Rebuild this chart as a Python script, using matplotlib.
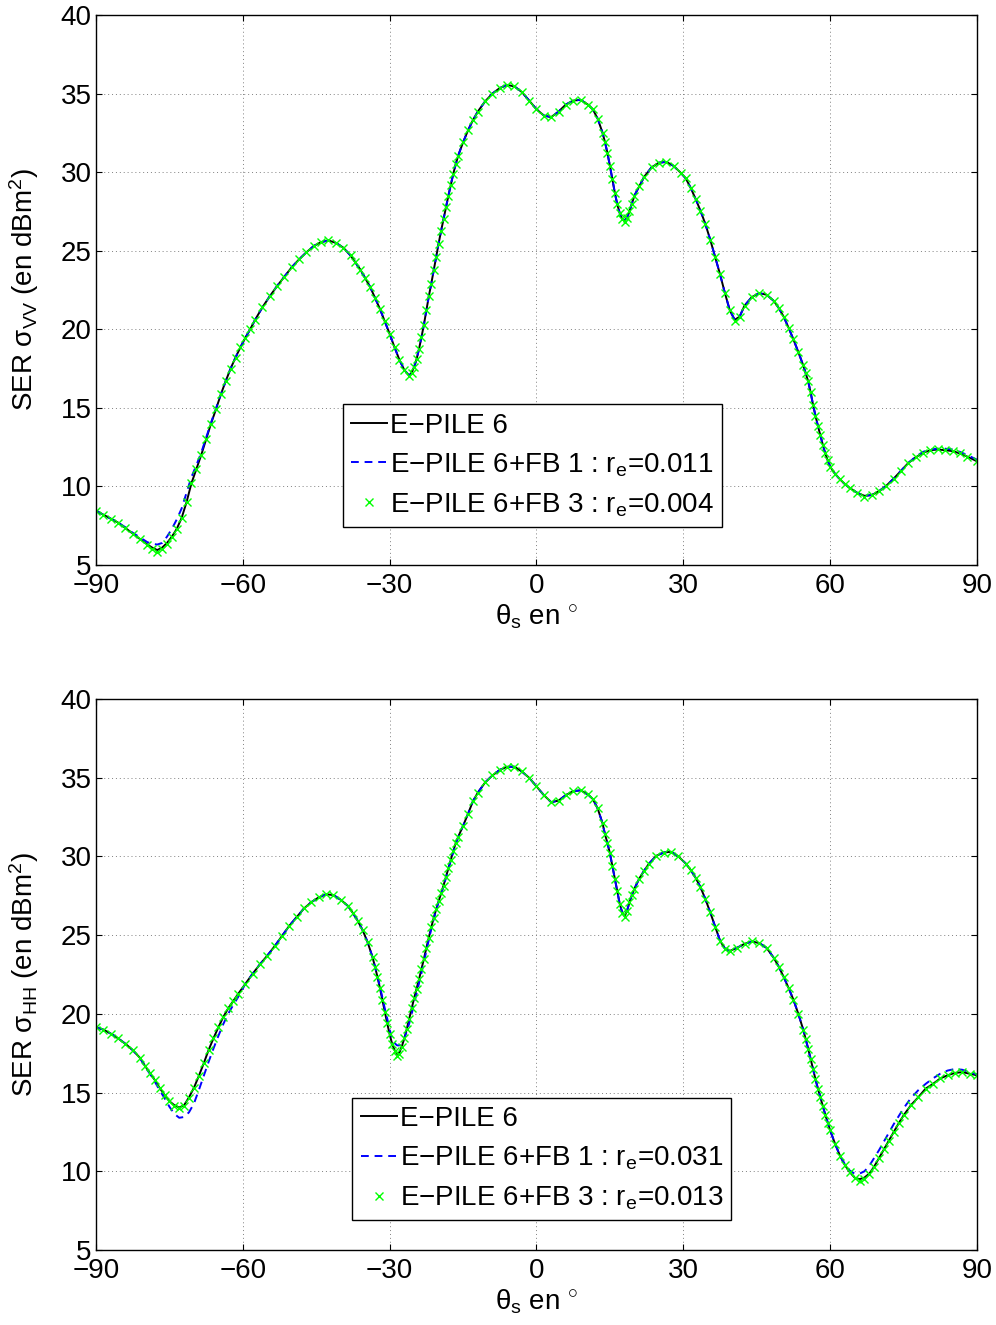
import matplotlib
matplotlib.use('Agg')
import matplotlib.pyplot as plt

plt.rcParams['font.family'] = ['Liberation Sans', 'DejaVu Sans']
plt.rcParams['mathtext.fontset'] = 'custom'
plt.rcParams['mathtext.rm'] = 'Liberation Sans'
plt.rcParams['mathtext.it'] = 'Liberation Sans'
plt.rcParams['mathtext.bf'] = 'Liberation Sans'

# ---- panel 1 : VV ----
th_vv = [-90, -88.5, -87, -85.5, -84, -82.5, -81, -79.5,
         -78.5, -77.5, -76.5, -75.5, -74.5, -73.5, -72.5, -71.5, -70.5, -69.5,
         -68.5, -67.5, -66.5, -65.5, -64.5, -63.5, -62.5, -61.5, -60.5, -59.5, -58.5, -57.5,
         -56, -54.5, -53, -51.5, -50, -48.5, -47, -45.5, -44, -42.5, -41, -39.5, -38,
         -37, -36, -35, -34, -33, -32, -31, -30, -29, -28, -27, -26,
         -25.5, -25, -24.5, -24, -23.5, -23, -22.5, -22, -21.5, -21, -20.5, -20,
         -19.5, -19, -18.5, -18, -17.5, -17, -16.5, -16,
         -15, -14, -13, -12,
         -10.5, -9, -7.5, -6, -4.5, -3, -1.5, 0, 1.5, 3, 4.5, 6, 7.5, 9, 10.5,
         11.5, 12.5, 13.5,
         14, 14.5, 15, 15.5, 16, 16.5, 17, 17.5, 18, 18.5, 19, 19.5, 20,
         21, 22,
         23.5, 25, 26.5, 28, 29.5,
         30.5, 31.5, 32.5, 33.5, 34.5, 35.5, 36.5, 37.5, 38.5, 39.5, 40.5, 41.5, 42.5,
         44, 45.5, 47, 48.5,
         49.5, 50.5, 51.5, 52.5, 53.5, 54.5,
         55, 55.5, 56, 56.5, 57, 57.5, 58, 58.5, 59, 59.5, 60,
         61, 62, 63, 64,
         65.5, 67, 68.5, 70, 71.5, 73, 74.5, 76, 77.5, 79, 80.5, 82, 83.5, 85, 86.5, 88, 90]

epile_vv = [8.45, 8.2, 7.95, 7.7, 7.35, 7.0, 6.65, 6.3,
            6.1, 5.95, 6.1, 6.4, 6.8, 7.3, 8.0, 9.0, 10.2, 11.1,
            12.0, 13.0, 14.0, 14.9, 15.85, 16.7, 17.5, 18.2, 18.85, 19.45, 20.0, 20.6,
            21.4, 22.1, 22.75, 23.35, 23.95, 24.45, 24.9, 25.3, 25.55, 25.65, 25.5, 25.2, 24.7,
            24.25, 23.8, 23.25, 22.7, 22.0, 21.3, 20.5, 19.7, 18.85, 18.05, 17.4, 17.05,
            17.25, 17.6, 18.1, 18.75, 19.5, 20.3, 21.2, 22.1, 22.9, 23.75, 24.6, 25.45,
            26.25, 27.0, 27.75, 28.5, 29.2, 29.9, 30.5, 31.05,
            31.9, 32.65, 33.3, 33.85,
            34.5, 35.0, 35.35, 35.55, 35.45, 35.1, 34.55, 34.0, 33.6, 33.5, 33.85, 34.3, 34.55, 34.6, 34.3,
            34.0, 33.4, 32.5,
            31.9, 31.2, 30.4, 29.55, 28.7, 27.95, 27.4, 27.0, 26.9, 27.1, 27.5, 28.0, 28.5,
            29.1, 29.7,
            30.3, 30.6, 30.65, 30.4, 29.95,
            29.6, 29.0, 28.3, 27.55, 26.7, 25.7, 24.6, 23.5, 22.3, 21.2, 20.6, 20.8, 21.5,
            22.05, 22.3, 22.2, 21.8,
            21.35, 20.8, 20.1, 19.35, 18.55, 17.7,
            17.2, 16.7, 16.0, 15.2, 14.5, 13.85, 13.25, 12.65, 12.1, 11.65, 11.25,
            10.8, 10.45, 10.15, 9.9,
            9.6, 9.4, 9.45, 9.7, 10.05, 10.5, 11.0, 11.5, 11.85, 12.15, 12.3, 12.35, 12.3, 12.25, 12.1, 11.9, 11.6]

fb1_vv = [8.45, 8.2, 7.95, 7.7, 7.4, 7.05, 6.75, 6.45,
          6.35, 6.3, 6.4, 6.8, 7.3, 7.9, 8.6, 9.6, 10.6, 11.35,
          12.15, 13.1, 14.05, 14.95, 15.85, 16.7, 17.5, 18.2, 18.85, 19.45, 20.0, 20.6,
          21.4, 22.1, 22.75, 23.35, 23.95, 24.45, 24.9, 25.3, 25.55, 25.65, 25.5, 25.2, 24.7,
          24.25, 23.8, 23.25, 22.7, 22.0, 21.3, 20.5, 19.7, 18.85, 18.05, 17.4, 17.05,
          17.25, 17.6, 18.1, 18.75, 19.5, 20.3, 21.2, 22.1, 22.9, 23.75, 24.6, 25.45,
          26.25, 27.0, 27.75, 28.5, 29.2, 29.9, 30.5, 31.05,
          31.9, 32.65, 33.3, 33.85,
          34.5, 35.0, 35.35, 35.55, 35.45, 35.1, 34.55, 34.0, 33.6, 33.5, 33.85, 34.3, 34.55, 34.6, 34.3,
          34.0, 33.4, 32.5,
          31.9, 31.2, 30.4, 29.55, 28.7, 27.95, 27.4, 27.0, 26.9, 27.1, 27.5, 28.0, 28.5,
          29.1, 29.7,
          30.3, 30.6, 30.65, 30.4, 29.95,
          29.6, 29.0, 28.3, 27.55, 26.7, 25.7, 24.6, 23.5, 22.3, 21.2, 20.6, 20.8, 21.5,
          22.05, 22.3, 22.2, 21.8,
          21.35, 20.8, 20.1, 19.35, 18.55, 17.7,
          17.2, 16.7, 16.0, 15.2, 14.5, 13.85, 13.25, 12.65, 12.1, 11.65, 11.25,
          10.8, 10.45, 10.15, 9.9,
          9.6, 9.4, 9.45, 9.7, 10.05, 10.5, 11.0, 11.5, 11.9, 12.2, 12.35, 12.4, 12.4, 12.35, 12.2, 12.0, 11.7]

fb3_vv = [8.45, 8.2, 7.95, 7.7, 7.35, 7.0, 6.65, 6.3,
          6.0, 5.85, 6.0, 6.35, 6.8, 7.3, 8.0, 9.0, 10.2, 11.1,
          12.0, 13.0, 14.0, 14.9, 15.85, 16.7, 17.5, 18.2, 18.85, 19.45, 20.0, 20.6,
          21.4, 22.1, 22.75, 23.35, 23.95, 24.45, 24.9, 25.3, 25.55, 25.65, 25.5, 25.2, 24.7,
          24.25, 23.8, 23.25, 22.7, 22.0, 21.3, 20.5, 19.7, 18.85, 18.05, 17.4, 17.0,
          17.2, 17.6, 18.1, 18.75, 19.5, 20.3, 21.2, 22.1, 22.9, 23.75, 24.6, 25.45,
          26.25, 27.0, 27.75, 28.5, 29.2, 29.9, 30.5, 31.05,
          31.9, 32.65, 33.3, 33.85,
          34.5, 35.0, 35.35, 35.55, 35.45, 35.1, 34.55, 34.0, 33.6, 33.5, 33.85, 34.3, 34.55, 34.6, 34.3,
          34.0, 33.4, 32.5,
          31.9, 31.2, 30.4, 29.55, 28.7, 27.95, 27.4, 27.0, 26.85, 27.1, 27.5, 28.0, 28.5,
          29.1, 29.7,
          30.3, 30.6, 30.65, 30.4, 29.95,
          29.6, 29.0, 28.3, 27.55, 26.7, 25.7, 24.6, 23.5, 22.3, 21.2, 20.55, 20.8, 21.5,
          22.05, 22.3, 22.2, 21.8,
          21.35, 20.8, 20.1, 19.35, 18.55, 17.7,
          17.2, 16.7, 16.0, 15.2, 14.5, 13.85, 13.25, 12.65, 12.1, 11.65, 11.25,
          10.8, 10.45, 10.15, 9.9,
          9.6, 9.35, 9.45, 9.7, 10.05, 10.5, 11.0, 11.5, 11.85, 12.15, 12.3, 12.35, 12.3, 12.25, 12.1, 11.9, 11.6]

# ---- panel 2 : HH ----
th_hh = [-90, -88.5, -87, -85.5, -84, -82.5, -81,
         -80, -79, -78, -77, -76, -75, -74, -73, -72, -71, -70,
         -69, -68, -67, -66, -65, -64, -63, -62, -61,
         -59.5, -58, -56.5, -55, -53.5, -52, -50.5, -49, -47.5, -46, -44.5, -43, -41.5, -40, -38.5,
         -37.5, -36.5, -35.5, -34.5, -33.5,
         -33, -32.5, -32, -31.5, -31, -30.5, -30, -29.5, -29, -28.5, -28, -27.5, -27, -26.5, -26, -25.5, -25, -24.5,
         -24, -23.5, -23, -22.5, -22, -21.5, -21, -20.5, -20, -19.5, -19, -18.5, -18, -17.5, -17, -16.5, -16,
         -15, -14, -13, -12,
         -10.5, -9, -7.5, -6, -4.5, -3, -1.5, 0, 1.5, 3, 4.5, 6, 7.5, 9, 10.5,
         11.5, 12.5, 13.5,
         14, 14.5, 15, 15.5, 16, 16.5, 17, 17.5, 18, 18.5, 19, 19.5, 20,
         21, 22, 23,
         24.5, 26, 27.5, 29, 30.5,
         31.5, 32.5, 33.5, 34.5, 35.5, 36.5, 37.5, 38.5, 39.5,
         41, 42.5, 44, 45.5, 47, 48.5,
         49.5, 50.5, 51.5, 52.5, 53.5, 54.5,
         55, 55.5, 56, 56.5, 57, 57.5, 58, 58.5, 59, 59.5, 60,
         61, 62, 63, 64, 65, 66, 67, 68, 69, 70, 71, 72, 73, 74, 75,
         76.5, 78, 79.5, 81, 82.5, 84, 85.5, 87, 88.5, 90]

epile_hh = [19.15, 19.0, 18.75, 18.45, 18.1, 17.7, 17.2,
            16.7, 16.25, 15.8, 15.3, 14.85, 14.45, 14.2, 14.05, 14.2, 14.7, 15.3,
            16.05, 16.85, 17.7, 18.45, 19.15, 19.8, 20.35, 20.8, 21.25,
            21.9, 22.55, 23.15, 23.7, 24.3, 24.95, 25.6, 26.15, 26.7, 27.1, 27.4, 27.6, 27.55, 27.25, 26.85,
            26.4, 25.9, 25.3, 24.55, 23.6,
            23.0, 22.35, 21.65, 20.9, 20.15, 19.4, 18.7, 18.1, 17.7, 17.45, 17.55, 17.95, 18.45, 19.05, 19.7, 20.35, 21.0, 21.6,
            22.2, 22.85, 23.5, 24.2, 24.85, 25.5, 26.1, 26.65, 27.15, 27.65, 28.15, 28.7, 29.25, 29.8, 30.35, 30.85, 31.25,
            31.95, 32.7, 33.5, 34.05,
            34.7, 35.15, 35.5, 35.7, 35.7, 35.4, 35.0, 34.45, 33.9, 33.45, 33.55, 33.9, 34.15, 34.2, 33.95,
            33.65, 33.05, 32.1,
            31.4, 30.85, 30.2, 29.4, 28.6, 27.8, 27.0, 26.45, 26.2, 26.55, 27.1, 27.55, 27.95,
            28.6, 29.1, 29.55,
            30.05, 30.25, 30.3, 30.0, 29.55,
            29.15, 28.65, 28.05, 27.3, 26.45, 25.55, 24.65, 24.15, 24.0,
            24.2, 24.45, 24.6, 24.5, 24.2, 23.55,
            23.0, 22.35, 21.65, 20.9, 20.0, 19.0,
            18.4, 17.8, 17.15, 16.5, 15.85, 15.25, 14.7, 14.15, 13.6, 13.1, 12.6,
            11.75, 11.0, 10.4, 9.95, 9.6, 9.5, 9.6, 9.85, 10.3, 10.85, 11.4, 11.95, 12.5, 13.05, 13.55,
            14.2, 14.7, 15.25, 15.55, 15.9, 16.1, 16.25, 16.3, 16.2, 16.1]

fb1_hh = [19.15, 19.0, 18.75, 18.45, 18.1, 17.7, 17.2,
          16.65, 16.2, 15.7, 15.15, 14.65, 14.1, 13.65, 13.4, 13.45, 13.75, 14.3,
          15.15, 16.05, 16.95, 17.8, 18.6, 19.35, 20.0, 20.55, 21.05,
          21.9, 22.55, 23.15, 23.7, 24.3, 24.95, 25.6, 26.15, 26.7, 27.1, 27.4, 27.6, 27.55, 27.25, 26.85,
          26.4, 25.9, 25.3, 24.55, 23.6,
          23.0, 22.4, 21.75, 21.05, 20.35, 19.7, 19.0, 18.45, 18.15, 18.0, 18.0, 18.15, 18.45, 18.9, 19.4, 20.0, 20.65, 21.3,
          21.95, 22.6, 23.3, 24.0, 24.7, 25.4, 26.0, 26.6, 27.1, 27.6, 28.1, 28.65, 29.2, 29.75, 30.3, 30.8, 31.2,
          31.95, 32.7, 33.5, 34.05,
          34.7, 35.15, 35.5, 35.7, 35.7, 35.4, 35.0, 34.45, 33.9, 33.45, 33.55, 33.9, 34.15, 34.2, 33.95,
          33.65, 33.05, 32.1,
          31.4, 30.85, 30.2, 29.4, 28.6, 27.8, 27.0, 26.45, 26.2, 26.55, 27.1, 27.55, 27.95,
          28.6, 29.1, 29.55,
          30.05, 30.25, 30.3, 30.0, 29.55,
          29.15, 28.65, 28.05, 27.3, 26.45, 25.55, 24.65, 24.15, 24.0,
          24.2, 24.45, 24.6, 24.5, 24.2, 23.55,
          23.0, 22.35, 21.65, 20.9, 20.0, 19.0,
          18.4, 17.8, 17.15, 16.5, 15.85, 15.25, 14.7, 14.15, 13.6, 13.1, 12.6,
          11.75, 11.0, 10.45, 10.05, 9.85, 9.85, 10.0, 10.35, 10.85, 11.35, 11.9, 12.45, 13.0, 13.5, 14.0,
          14.65, 15.15, 15.55, 15.9, 16.2, 16.4, 16.5, 16.45, 16.3, 16.15]

fb3_hh = [19.15, 19.0, 18.75, 18.45, 18.1, 17.7, 17.2,
          16.7, 16.25, 15.8, 15.3, 14.85, 14.45, 14.15, 14.0, 14.15, 14.65, 15.3,
          16.05, 16.85, 17.7, 18.45, 19.15, 19.8, 20.35, 20.8, 21.25,
          21.9, 22.55, 23.15, 23.7, 24.3, 24.95, 25.6, 26.15, 26.7, 27.1, 27.4, 27.6, 27.55, 27.25, 26.85,
          26.4, 25.9, 25.3, 24.55, 23.6,
          23.0, 22.35, 21.65, 20.9, 20.15, 19.4, 18.7, 18.1, 17.65, 17.35, 17.45, 17.9, 18.45, 19.05, 19.7, 20.35, 21.0, 21.6,
          22.2, 22.85, 23.5, 24.2, 24.85, 25.5, 26.1, 26.65, 27.15, 27.65, 28.15, 28.7, 29.25, 29.8, 30.35, 30.85, 31.25,
          31.95, 32.7, 33.5, 34.05,
          34.7, 35.15, 35.5, 35.7, 35.7, 35.4, 35.0, 34.45, 33.9, 33.45, 33.55, 33.9, 34.15, 34.2, 33.95,
          33.65, 33.05, 32.1,
          31.4, 30.85, 30.2, 29.4, 28.6, 27.8, 27.0, 26.4, 26.15, 26.55, 27.1, 27.55, 27.95,
          28.6, 29.1, 29.55,
          30.05, 30.25, 30.3, 30.0, 29.55,
          29.15, 28.65, 28.05, 27.3, 26.45, 25.55, 24.65, 24.15, 24.0,
          24.2, 24.45, 24.6, 24.5, 24.2, 23.55,
          23.0, 22.35, 21.65, 20.9, 20.0, 19.0,
          18.4, 17.8, 17.15, 16.5, 15.85, 15.25, 14.7, 14.15, 13.6, 13.1, 12.6,
          11.75, 11.0, 10.4, 9.95, 9.55, 9.4, 9.5, 9.85, 10.3, 10.85, 11.4, 11.95, 12.5, 13.05, 13.55,
          14.2, 14.7, 15.25, 15.55, 15.9, 16.1, 16.25, 16.3, 16.2, 16.1]

re_vv = ['0.011', '0.004']
re_hh = ['0.031', '0.013']
xticks = [-90, -60, -30, 0, 30, 60, 90]
yticks = [5, 10, 15, 20, 25, 30, 35, 40]

FS = 20
MINUS = '\u2212'


def draw(ax, th, a, b, c, re, pol, leg_xy):
    ax.plot(th, a, color='k', lw=1.4, label='E' + MINUS + 'PILE 6')
    ax.plot(th, b, color='b', lw=1.4, ls='--', dashes=(4, 3),
            label='E' + MINUS + 'PILE 6+FB 1 : r$_{\\mathregular{e}}$=' + re[0])
    ax.plot(th, c, ls='none', marker='x', color=(0, 1, 0), ms=6, mew=1.0,
            label='E' + MINUS + 'PILE 6+FB 3 : r$_{\\mathregular{e}}$=' + re[1])
    ax.set_xlim(-90, 90)
    ax.set_ylim(5, 40)
    ax.set_xticks(xticks)
    ax.set_yticks(yticks)
    ax.grid(True, color='0.5', ls=(0, (1, 3)), lw=0.7)
    ax.tick_params(direction='in', top=True, right=True, length=4.5,
                   width=0.8, labelsize=FS)
    ax.tick_params(axis='x', pad=6)
    ax.tick_params(axis='y', pad=3)
    for s in ax.spines.values():
        s.set_linewidth(1.0)
    ax.set_xlabel('\u03b8$_{\\mathregular{s}}$ en $^{\\circ}$', fontsize=FS, labelpad=2)
    ax.set_ylabel('SER \u03c3$_{\\mathregular{' + pol + '}}$ (en dBm$^{\\mathregular{2}}$)',
                  fontsize=FS, labelpad=14)
    leg = ax.legend(loc='lower left', bbox_to_anchor=leg_xy, borderaxespad=0,
                    fontsize=FS, fancybox=False, framealpha=1, edgecolor='k',
                    handlelength=1.3, handletextpad=0.1, borderpad=0.3,
                    labelspacing=0.45, numpoints=1)
    leg.get_frame().set_linewidth(1.0)


fig = plt.figure(figsize=(9.96, 13.25), dpi=100)
ax1 = fig.add_axes([0.0964, 0.5736, 0.8845, 0.4151])
ax2 = fig.add_axes([0.0964, 0.0566, 0.8845, 0.4158])

draw(ax1, th_vv, epile_vv, fb1_vv, fb3_vv, re_vv, 'VV', (0.280, 0.069))
draw(ax2, th_hh, epile_hh, fb1_hh, fb3_hh, re_hh, 'HH', (0.291, 0.054))

fig.savefig('out.png', dpi=100)
